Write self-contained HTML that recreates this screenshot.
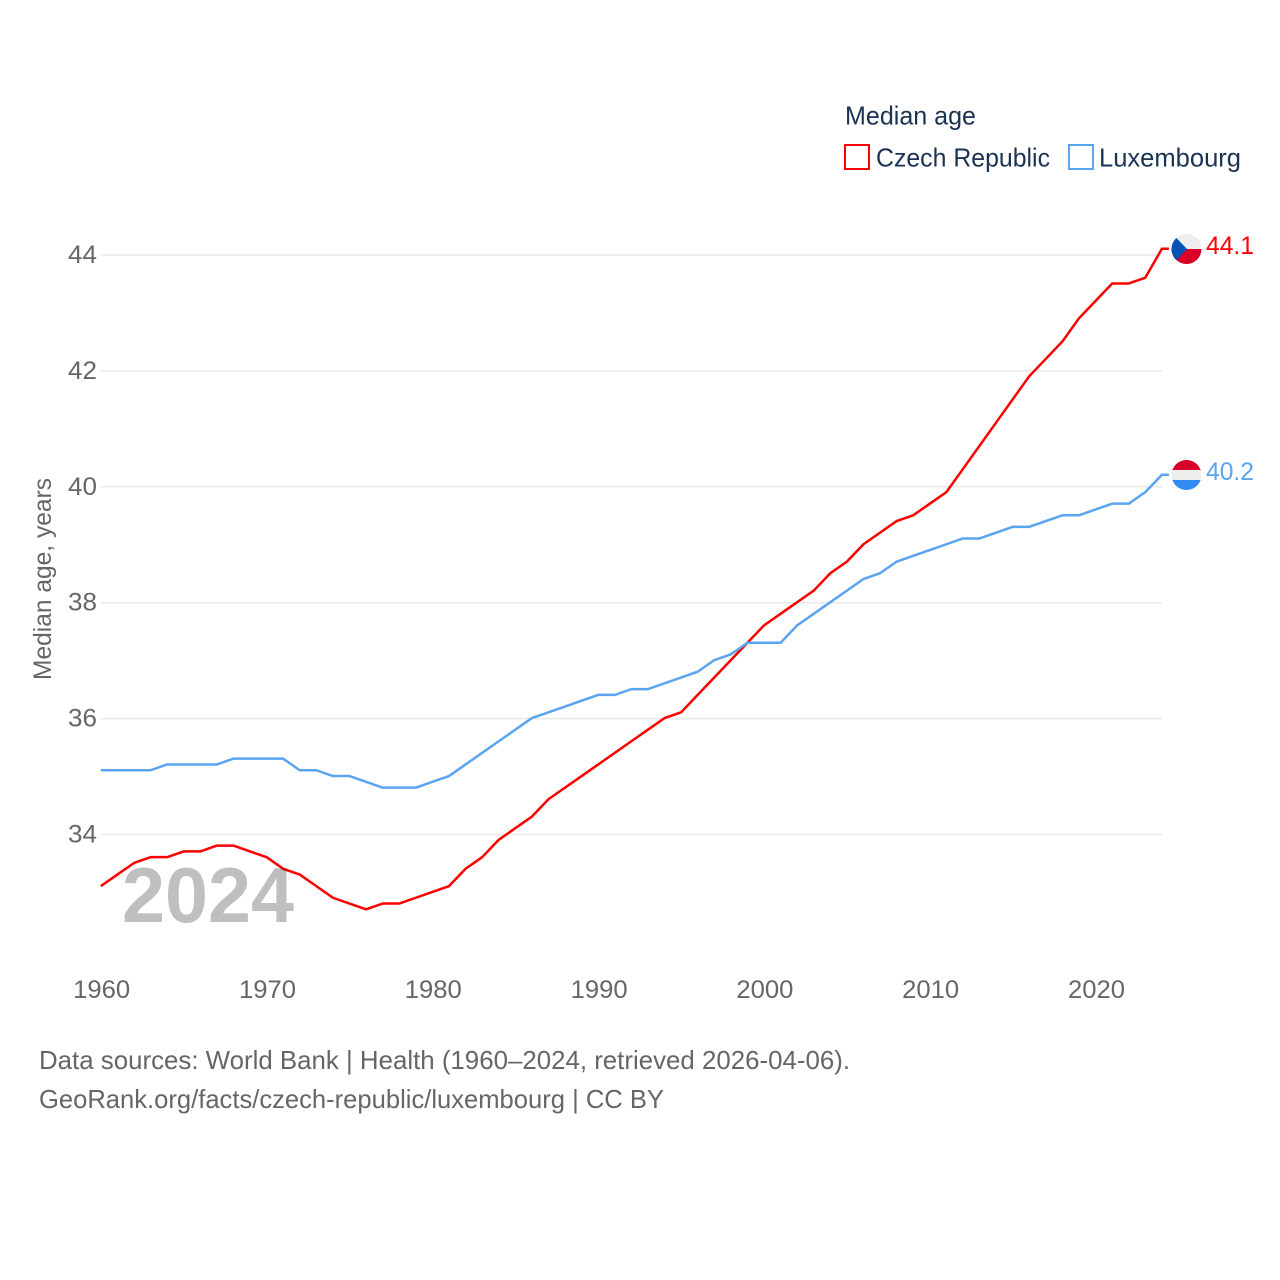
<!DOCTYPE html>
<html lang="en">
<head>
<meta charset="utf-8">
<title>Median age: Czech Republic and Luxembourg</title>
<style>
html,body{margin:0;padding:0;background:#fff;}
svg{display:block;font-family:"Liberation Sans",sans-serif;}
</style>
</head>
<body>
<svg id="chart" width="1280" height="1280" viewBox="0 0 1280 1280" xmlns="http://www.w3.org/2000/svg">
  <defs>
    <clipPath id="flag-clip-cz"><circle cx="1186.5" cy="249" r="15"/></clipPath>
    <clipPath id="flag-clip-lu"><circle cx="1186.5" cy="475" r="15"/></clipPath>
  </defs>
  <rect width="1280" height="1280" fill="#fff"/>
  <g id="grid"></g>
  <g id="yticks"></g>
  <g id="xticks"></g>
  <g id="series"></g>

  <text x="0" y="0" transform="translate(51,680) rotate(-90)" font-size="25" fill="#666" textLength="202" lengthAdjust="spacingAndGlyphs">Median age, years</text>

  <text x="122" y="922" font-size="78" font-weight="bold" fill="#000" fill-opacity="0.25" textLength="172" lengthAdjust="spacingAndGlyphs">2024</text>

  <g>
    <text x="845" y="124.5" font-size="26" fill="#1b3353" textLength="131" lengthAdjust="spacingAndGlyphs">Median age</text>
    <g>
      <rect x="845" y="145" width="24" height="24" fill="#fff" stroke="#ff0000" stroke-width="2"/>
      <text x="876" y="166.5" font-size="26" fill="#1b3353" textLength="174" lengthAdjust="spacingAndGlyphs">Czech Republic</text>
    </g>
    <g>
      <rect x="1069" y="145" width="24" height="24" fill="#fff" stroke="#5ba4f0" stroke-width="2"/>
      <text x="1099" y="166.5" font-size="26" fill="#1b3353" textLength="142" lengthAdjust="spacingAndGlyphs">Luxembourg</text>
    </g>
  </g>

  <g clip-path="url(#flag-clip-cz)">
    <rect x="1171" y="234" width="31" height="15" fill="#eeeeee"/>
    <rect x="1171" y="249" width="31" height="15" fill="#d80027"/>
    <polygon points="1171,234 1172.5,234 1187,249 1172.5,264 1171,264" fill="#0052b4"/>
  </g>
  <g clip-path="url(#flag-clip-lu)">
    <rect x="1171" y="460" width="31" height="10" fill="#d80027"/>
    <rect x="1171" y="470" width="31" height="10" fill="#eeeeee"/>
    <rect x="1171" y="480" width="31" height="10" fill="#338af3"/>
  </g>

  <text x="1206" y="254" font-size="25" fill="#ff0000" textLength="48" lengthAdjust="spacingAndGlyphs">44.1</text>
  <text x="1206" y="480" font-size="25" fill="#5ba4f0" textLength="48" lengthAdjust="spacingAndGlyphs">40.2</text>

  <text x="39" y="1069" font-size="26" fill="#666" textLength="811" lengthAdjust="spacingAndGlyphs">Data sources: World Bank | Health (1960–2024, retrieved 2026-04-06).</text>
  <text x="39" y="1108" font-size="26" fill="#666" textLength="625" lengthAdjust="spacingAndGlyphs">GeoRank.org/facts/czech-republic/luxembourg | CC BY</text>
</svg>
<script>
const years = [1960,1961,1962,1963,1964,1965,1966,1967,1968,1969,1970,1971,1972,1973,1974,1975,1976,1977,1978,1979,1980,1981,1982,1983,1984,1985,1986,1987,1988,1989,1990,1991,1992,1993,1994,1995,1996,1997,1998,1999,2000,2001,2002,2003,2004,2005,2006,2007,2008,2009,2010,2011,2012,2013,2014,2015,2016,2017,2018,2019,2020,2021,2022,2023,2024];
const czechRepublic = [33.1,33.3,33.5,33.6,33.6,33.7,33.7,33.8,33.8,33.7,33.6,33.4,33.3,33.1,32.9,32.8,32.7,32.8,32.8,32.9,33.0,33.1,33.4,33.6,33.9,34.1,34.3,34.6,34.8,35.0,35.2,35.4,35.6,35.8,36.0,36.1,36.4,36.7,37.0,37.3,37.6,37.8,38.0,38.2,38.5,38.7,39.0,39.2,39.4,39.5,39.7,39.9,40.3,40.7,41.1,41.5,41.9,42.2,42.5,42.9,43.2,43.5,43.5,43.6,44.1];
const luxembourg = [35.1,35.1,35.1,35.1,35.2,35.2,35.2,35.2,35.3,35.3,35.3,35.3,35.1,35.1,35.0,35.0,34.9,34.8,34.8,34.8,34.9,35.0,35.2,35.4,35.6,35.8,36.0,36.1,36.2,36.3,36.4,36.4,36.5,36.5,36.6,36.7,36.8,37.0,37.1,37.3,37.3,37.3,37.6,37.8,38.0,38.2,38.4,38.5,38.7,38.8,38.9,39.0,39.1,39.1,39.2,39.3,39.3,39.4,39.5,39.5,39.6,39.7,39.7,39.9,40.2];
const yTickValues = [34,36,38,40,42,44];
const xTickValues = [1960,1970,1980,1990,2000,2010,2020];

const NS = 'http://www.w3.org/2000/svg';
const xScale = function (year) { return 100.8 + (year - 1960) * 16.58; };
const yScale = function (value) { return 255 + (44 - value) * 57.95; };
const plotLeft = xScale(1960);
const plotRight = xScale(2024);

function make(tag, parent, attrs, text) {
  const el = document.createElementNS(NS, tag);
  Object.keys(attrs).forEach(function (k) { el.setAttribute(k, attrs[k]); });
  if (text !== undefined) el.textContent = text;
  parent.appendChild(el);
  return el;
}

const grid = document.getElementById('grid');
const yticks = document.getElementById('yticks');
const xticks = document.getElementById('xticks');
const seriesGroup = document.getElementById('series');

yTickValues.forEach(function (v) {
  const line = make('line', grid, {x1: plotLeft, x2: plotRight, y1: yScale(v), y2: yScale(v), stroke: '#e9e9e9', 'stroke-width': 1.5});
  
  
  const label = make('text', yticks, {x: 97, y: yScale(v) + 8, 'text-anchor': 'end', 'font-size': 25, fill: '#666', textLength: 29, lengthAdjust: 'spacingAndGlyphs'}, String(v));
  
  
});

xTickValues.forEach(function (y) {
  const label = make('text', xticks, {x: xScale(y) + 0.9, y: 998, 'text-anchor': 'middle', 'font-size': 25, fill: '#666', textLength: 57, lengthAdjust: 'spacingAndGlyphs'}, String(y));
  
  
});

function drawSeries(values, color) {
  const pts = values.map(function (v, i) { return xScale(years[i]) + ',' + (yScale(v) - 0.5); });
  const last = values[values.length - 1];
  pts.push((plotRight + 7) + ',' + (yScale(last) - 0.5));
  return make('polyline', seriesGroup, {points: pts.join(' '), fill: 'none', stroke: color, 'stroke-width': 2.5, 'stroke-linejoin': 'round'});
}

const lineCz = drawSeries(czechRepublic, '#ff0000');


const lineLu = drawSeries(luxembourg, '#5ba4f0');


</script>
</body>
</html>
